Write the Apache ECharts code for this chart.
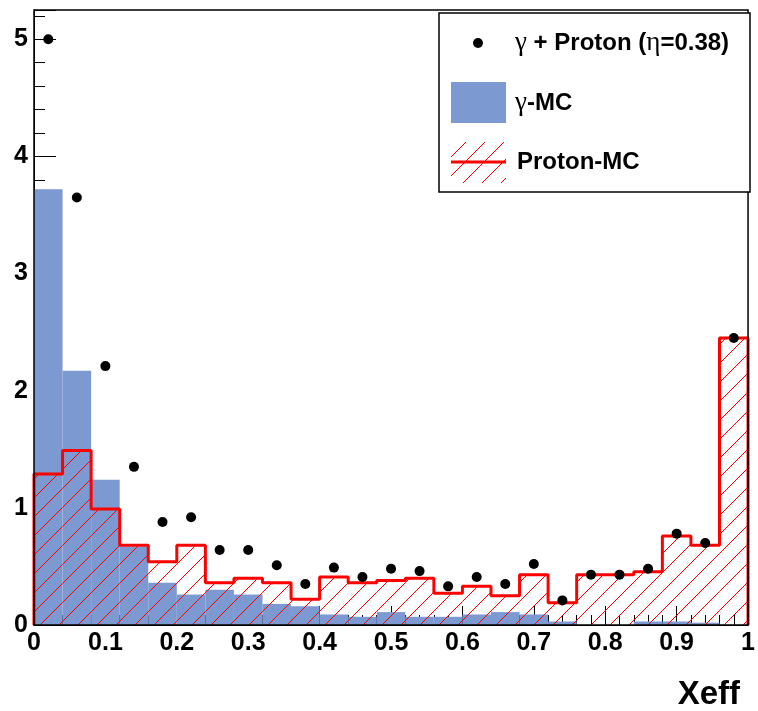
<!DOCTYPE html>
<html><head><meta charset="utf-8">
<script src="https://cdn.jsdelivr.net/npm/echarts@6/dist/echarts.min.js"></script>
<style>html,body{margin:0;padding:0;background:#fff}#c{width:758px;height:711px}</style>
</head><body><div id="c"></div>
<script>
// Bin edges of Xeff (25 bins)
const xEdges = [0,0.04,0.08,0.12,0.16,0.2,0.24,0.28,0.32,0.36,0.4,0.44,0.48,0.52,0.56,0.6,0.64,0.68,0.72,0.76,0.8,0.84,0.88,0.92,0.96,1];
// gamma-MC histogram (blue)
const gammaMC = [3.72,2.17,1.24,0.67,0.36,0.26,0.30,0.26,0.18,0.16,0.09,0.07,0.11,0.07,0.07,0.09,0.11,0.09,0.03,0,0,0.03,0.03,0.02,0];
// Proton-MC histogram (red hatched)
const protonMC = [1.29,1.49,0.99,0.68,0.54,0.68,0.36,0.40,0.36,0.22,0.41,0.36,0.38,0.40,0.27,0.33,0.25,0.43,0.19,0.43,0.43,0.455,0.76,0.68,2.45];
// gamma + Proton data points
const dataPts = [5.0,3.65,2.21,1.35,0.88,0.92,0.64,0.64,0.51,0.35,0.49,0.41,0.48,0.46,0.33,0.41,0.35,0.52,0.21,0.43,0.43,0.48,0.78,0.70,2.45];
// Axis ticks
const xTicks = [0,0.1,0.2,0.3,0.4,0.5,0.6,0.7,0.8,0.9,1];
const yTicks = [0,1,2,3,4,5];
const yMax = 5.25;

const FONT = '"Liberation Sans", Arial, sans-serif';
const BLUE = '#7d99d1';
const RED = '#ff0000';
const HATCH_STEP = 19;

// diagonal "/" hatch lines clipped to a pixel rectangle
function hatchLines(L, T, R, B, z){
  const out = [];
  for (let c = Math.ceil((L + T) / HATCH_STEP) * HATCH_STEP; c <= R + B; c += HATCH_STEP) {
    const xa = Math.max(L, c - B), xb = Math.min(R, c - T);
    if (xb > xa) {
      const el = {type: 'line', shape: {x1: xa, y1: c - xa, x2: xb, y2: c - xb}, style: {stroke: RED, lineWidth: 1}};
      if (z !== undefined) el.z = z;
      out.push(el);
    }
  }
  return out;
}

const binData = (vals) => vals.map((v,i)=>[xEdges[i], xEdges[i+1], v]);
const centers = xEdges.slice(0,-1).map((e,i)=>(e+xEdges[i+1])/2);

const stepLine = [[xEdges[0],0]];
protonMC.forEach((v,i)=>stepLine.push([xEdges[i], v]));
stepLine.push([xEdges[xEdges.length-1], protonMC[protonMC.length-1]]);
stepLine.push([xEdges[xEdges.length-1], 0]);

function blueRenderer(params, api){
  const p0 = api.coord([api.value(0), api.value(2)]);
  const p1 = api.coord([api.value(1), 0]);
  return {type:'rect', shape:{x:p0[0], y:p0[1], width:p1[0]-p0[0], height:p1[1]-p0[1]}, style:{fill: BLUE}};
}
function hatchRenderer(params, api){
  const p0 = api.coord([api.value(0), api.value(2)]);
  const p1 = api.coord([api.value(1), 0]);
  return {type: 'group', children: hatchLines(p0[0], p0[1], p1[0], p1[1])};
}

const chart = echarts.init(document.getElementById('c'), null, {renderer:'canvas'});
const labelStyle = {fontFamily: FONT, fontWeight: 'bold', fontSize: 25, color: '#000'};
const greek = {fontFamily: '"Liberation Serif", serif', fontWeight: 'normal', fontSize: 27, fill: '#000'};

chart.setOption({
  animation: false,
  backgroundColor: '#fff',
  grid: {left: 34, right: 4, top: 10, bottom: 86, show: true, borderColor: '#000', borderWidth: 1.5, backgroundColor: 'rgba(0,0,0,0)', z: 10},
  xAxis: {
    type: 'value', min: xTicks[0], max: xTicks[xTicks.length-1], interval: 0.1,
    axisLine: {show: true, lineStyle: {color: '#000', width: 1}},
    axisTick: {show: true, inside: true, length: 19, lineStyle: {color: '#000', width: 1}},
    minorTick: {show: true, splitNumber: 5, length: 10, lineStyle: {color: '#000', width: 1}},
    axisLabel: Object.assign({margin: 6}, labelStyle),
    splitLine: {show: false}
  },
  yAxis: [{
    type: 'value', min: yTicks[0], max: yMax, interval: 1,
    axisLine: {show: true, lineStyle: {color: '#000', width: 1}},
    axisTick: {show: true, inside: true, length: 22, lineStyle: {color: '#000', width: 1}},
    axisLabel: Object.assign({margin: 6, formatter: v => (Math.abs(v-Math.round(v))<1e-9 && yTicks.indexOf(Math.round(v))>=0) ? String(Math.round(v)) : ''}, labelStyle),
    splitLine: {show: false}
  },{
    type: 'value', min: 0, max: yMax, interval: 0.2, position: 'left', offset: 0,
    axisLine: {show: false},
    axisTick: {show: true, inside: true, length: 11, lineStyle: {color: '#000', width: 1}},
    axisLabel: {show: false},
    splitLine: {show: false}
  }],
  series: [
    {type: 'custom', name: 'γ-MC', data: binData(gammaMC), encode: {x: [0,1], y: 2}, renderItem: blueRenderer, z: 2},
    {type: 'custom', name: 'Proton-MC hatch', data: binData(protonMC), encode: {x: [0,1], y: 2}, renderItem: hatchRenderer, z: 3},
    {type: 'line', name: 'Proton-MC', data: stepLine, step: 'end', symbol: 'none', lineStyle: {color: RED, width: 3}, z: 4},
    {type: 'scatter', name: 'γ + Proton (η=0.38)', data: centers.map((c,i)=>[c, dataPts[i]]), symbol: 'circle', symbolSize: 10, itemStyle: {color: '#000', opacity: 1}, z: 5}
  ],
  graphic: [
    {type: 'rect', z: 100, shape: {x: 439, y: 13, width: 311, height: 179}, style: {fill: '#fff', stroke: '#000', lineWidth: 1.5}},
    {type: 'circle', z: 101, shape: {cx: 478, cy: 43, r: 5}, style: {fill: '#000'}},
    {type: 'text', z: 101, x: 515, y: 43, style: {text: '{g|γ} + Proton ({g|η}=0.38)', fontFamily: FONT, fontWeight: 'bold', fontSize: 24, fill: '#000', verticalAlign: 'middle', align: 'left', rich: {g: greek}}},
    {type: 'rect', z: 101, shape: {x: 451, y: 82, width: 55, height: 41}, style: {fill: BLUE}},
    {type: 'text', z: 101, x: 515, y: 103, style: {text: '{g|γ}-MC', fontFamily: FONT, fontWeight: 'bold', fontSize: 24, fill: '#000', verticalAlign: 'middle', align: 'left', rich: {g: greek}}}
  ].concat(hatchLines(451, 142, 506, 183, 101)).concat([
    {type: 'line', z: 102, shape: {x1: 451, y1: 162, x2: 506, y2: 162}, style: {stroke: RED, lineWidth: 3}},
    {type: 'text', z: 101, x: 517, y: 162, style: {text: 'Proton-MC', fontFamily: FONT, fontWeight: 'bold', fontSize: 24, fill: '#000', verticalAlign: 'middle', align: 'left'}},
    {type: 'text', z: 101, x: 740, y: 695, style: {text: 'Xeff', fontFamily: FONT, fontWeight: 'bold', fontSize: 33, fill: '#000', verticalAlign: 'middle', align: 'right'}}
  ])
});
</script>
</body></html>
